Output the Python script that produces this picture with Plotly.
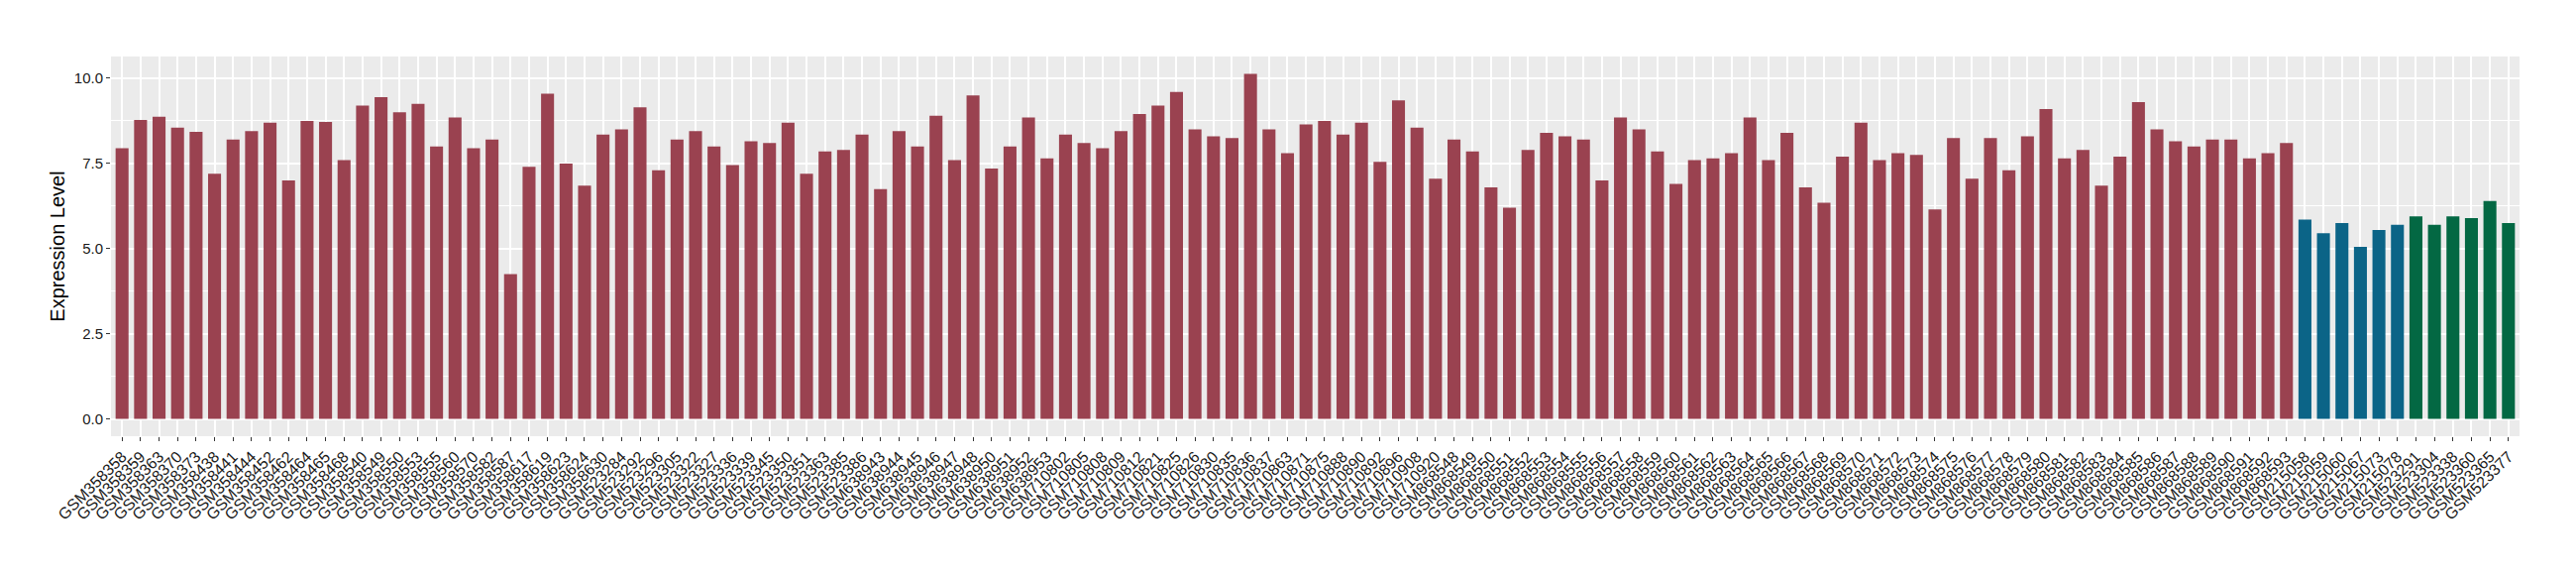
import plotly.graph_objects as go

samples = [
    "GSM358358", "GSM358359", "GSM358363", "GSM358370", "GSM358373", "GSM358438",
    "GSM358441", "GSM358444", "GSM358452", "GSM358462", "GSM358464", "GSM358465",
    "GSM358468", "GSM358540", "GSM358549", "GSM358550", "GSM358553", "GSM358555",
    "GSM358560", "GSM358570", "GSM358582", "GSM358587", "GSM358617", "GSM358619",
    "GSM358623", "GSM358624", "GSM358630",
    "GSM523284", "GSM523292", "GSM523296", "GSM523305", "GSM523322", "GSM523327",
    "GSM523336", "GSM523339", "GSM523345", "GSM523350", "GSM523351", "GSM523363",
    "GSM523385", "GSM523386",
    "GSM638943", "GSM638944", "GSM638945", "GSM638946", "GSM638947", "GSM638948",
    "GSM638950", "GSM638951", "GSM638952", "GSM638953",
    "GSM710802", "GSM710805", "GSM710808", "GSM710809", "GSM710812", "GSM710821",
    "GSM710825", "GSM710826", "GSM710830", "GSM710835", "GSM710836", "GSM710837",
    "GSM710863", "GSM710871", "GSM710875", "GSM710888", "GSM710890", "GSM710892",
    "GSM710896", "GSM710908", "GSM710920",
    "GSM868548", "GSM868549", "GSM868550", "GSM868551", "GSM868552", "GSM868553",
    "GSM868554", "GSM868555", "GSM868556", "GSM868557", "GSM868558", "GSM868559",
    "GSM868560", "GSM868561", "GSM868562", "GSM868563", "GSM868564", "GSM868565",
    "GSM868566", "GSM868567", "GSM868568", "GSM868569", "GSM868570", "GSM868571",
    "GSM868572", "GSM868573", "GSM868574", "GSM868575", "GSM868576", "GSM868577",
    "GSM868578", "GSM868579", "GSM868580", "GSM868581", "GSM868582", "GSM868583",
    "GSM868584", "GSM868585", "GSM868586", "GSM868587", "GSM868588", "GSM868589",
    "GSM868590", "GSM868591", "GSM868592", "GSM868593",
    "GSM215058", "GSM215059", "GSM215060", "GSM215067", "GSM215073", "GSM215078",
    "GSM523291", "GSM523304", "GSM523338", "GSM523360", "GSM523365", "GSM523377",
]

values = [
    7.95, 8.78, 8.87, 8.55, 8.43, 7.2, 8.2, 8.45, 8.7, 7.0, 8.75, 8.72,
    7.6, 9.2, 9.45, 9.0, 9.25, 8.0, 8.85, 7.95, 8.2, 4.25, 7.4, 9.55,
    7.5, 6.85, 8.35,
    8.5, 9.15, 7.3, 8.2, 8.45, 8.0, 7.45, 8.15, 8.1, 8.7, 7.2, 7.85,
    7.9, 8.35,
    6.75, 8.45, 8.0, 8.9, 7.6, 9.5, 7.35, 8.0, 8.85, 7.65,
    8.35, 8.1, 7.95, 8.45, 8.95, 9.2, 9.6, 8.5, 8.3, 8.25, 10.13, 8.5,
    7.8, 8.65, 8.75, 8.35, 8.7, 7.55, 9.35, 8.55, 7.05,
    8.2, 7.85, 6.8, 6.2, 7.9, 8.4, 8.3, 8.2, 7.0, 8.85, 8.5, 7.85,
    6.9, 7.6, 7.65, 7.8, 8.85, 7.6, 8.4, 6.8, 6.35, 7.7, 8.7, 7.6,
    7.8, 7.75, 6.15, 8.25, 7.05, 8.25, 7.3, 8.3, 9.1, 7.65, 7.9, 6.85,
    7.7, 9.3, 8.5, 8.15, 8.0, 8.2, 8.2, 7.65, 7.8, 8.1,
    5.85, 5.45, 5.75, 5.05, 5.55, 5.7,
    5.95, 5.7, 5.95, 5.9, 6.4, 5.75,
]

groups = ["A"] * 118 + ["B"] * 6 + ["C"] * 6

group_colors = {"A": "#9A4250", "B": "#0B6487", "C": "#036843"}

y_ticks = [0, 2.5, 5, 7.5, 10]
y_tick_labels = ["0.0", "2.5", "5.0", "7.5", "10.0"]

fig = go.Figure()

fig.add_trace(go.Bar(
    x=samples, y=values,
    marker=dict(color=[group_colors[g] for g in groups], line=dict(width=0)),
    showlegend=False,
))

# the page body has an 8px margin, so the figure is sized/offset to compensate
fig.update_layout(
    width=2584,
    height=564,
    margin=dict(l=104, r=49, t=49, b=132),
    paper_bgcolor="white",
    plot_bgcolor="#EBEBEB",
    bargap=0.3,
    font=dict(family="Liberation Sans, Arial, sans-serif", color="#1a1a1a"),
    xaxis=dict(
        type="category",
        automargin=False,
        range=[-0.6, len(samples) - 0.4],
        tickmode="array", tickvals=samples, ticktext=samples,
        showgrid=True, gridcolor="white", gridwidth=1.5,
        ticks="outside", ticklen=4, tickcolor="#333333", tickwidth=1,
        tickangle=-45,
        tickfont=dict(size=16, color="#1a1a1a"),
        zeroline=False, showline=False,
    ),
    yaxis=dict(
        automargin=False,
        range=[-0.506, 10.64],
        tickvals=y_ticks, ticktext=y_tick_labels,
        showgrid=True, gridcolor="white", gridwidth=1.5,
        minor=dict(dtick=1.25, tick0=0, showgrid=True, gridcolor="white", gridwidth=0.7),
        ticks="outside", ticklen=4, tickcolor="#333333", tickwidth=1,
        tickfont=dict(size=15, color="#1a1a1a"),
        zeroline=False, showline=False,
        title=dict(text="Expression Level", font=dict(size=20, color="black"), standoff=3),
    ),
)

fig.write_html("out.html")
